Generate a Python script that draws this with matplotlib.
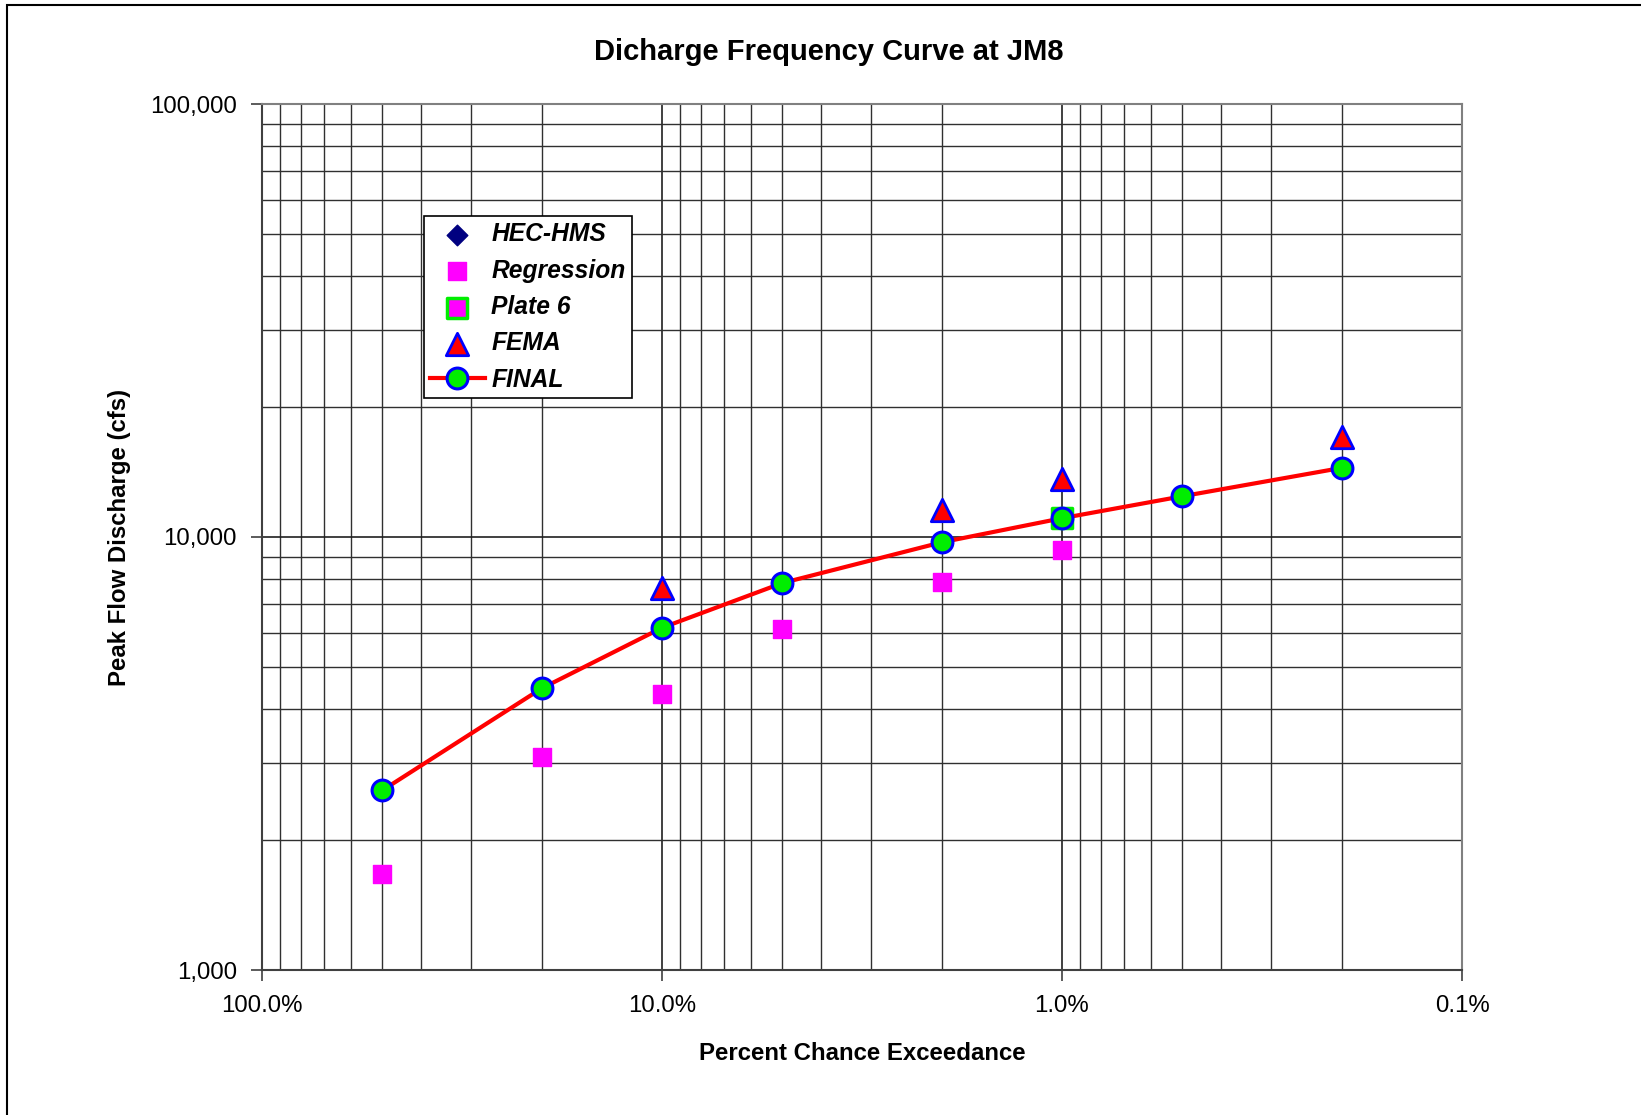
import matplotlib
matplotlib.use("Agg")
import matplotlib.pyplot as plt
from matplotlib.ticker import FixedLocator, FuncFormatter, NullFormatter
from matplotlib.patches import Rectangle

plt.rcParams['font.family'] = ['Liberation Sans', 'DejaVu Sans']

# percent chance exceedance (as fraction) and discharges
pct = [0.5, 0.2, 0.1, 0.05, 0.02, 0.01, 0.005, 0.002]
final = [2600, 4470, 6170, 7830, 9720, 11050, 12420, 14440]

hms_pct = [0.5, 0.1, 0.02, 0.01, 0.002]
hms = [2600, 6170, 9720, 11050, 14440]

reg_pct = [0.5, 0.2, 0.1, 0.05, 0.02, 0.01]
regression = [1670, 3110, 4350, 6130, 7870, 9350]

plate_pct = [0.01]
plate6 = [11050]

fema_pct = [0.1, 0.02, 0.01, 0.002]
fema = [7620, 11560, 13580, 17060]

x_ticks = [1.0, 0.1, 0.01, 0.001]
y_ticks = [1000, 10000, 100000]

fig = plt.figure(figsize=(16.41, 11.15), dpi=100)
fig.patches.append(Rectangle((7 / 1641, -0.1), 2.0, 1.1 - 5 / 1115, transform=fig.transFigure,
                             fill=False, edgecolor='black', linewidth=1.5))
ax = fig.add_axes([262 / 1641, 1 - 970 / 1115, (1462 - 262) / 1641, (970 - 104) / 1115])

ax.set_xscale('log')
ax.set_yscale('log')
ax.set_xlim(1.0, 0.001)
ax.set_ylim(1000, 100000)

ax.scatter(hms_pct, hms, marker='D', s=110, color='#000080', zorder=4, label='HEC-HMS')
ax.scatter(reg_pct, regression, marker='s', s=150, color='#ff00ff', zorder=4, label='Regression')
ax.scatter(plate_pct, plate6, marker='s', s=190, facecolor='#ff00ff', edgecolor='#00ee00',
           linewidth=2.5, zorder=4, label='Plate 6')
ax.scatter(fema_pct, fema, marker='^', s=260, facecolor='red', edgecolor='blue',
           linewidth=2, zorder=5, label='FEMA')
ax.plot(pct, final, color='red', linewidth=3, marker='o', markersize=15,
        markerfacecolor='#00ee00', markeredgecolor='blue', markeredgewidth=2.2,
        zorder=6, label='FINAL')

ax.xaxis.set_major_locator(FixedLocator(x_ticks))
ax.xaxis.set_major_formatter(FuncFormatter(lambda v, p: '{:.1f}%'.format(v * 100)))
ax.xaxis.set_minor_formatter(NullFormatter())
ax.yaxis.set_major_locator(FixedLocator(y_ticks))
ax.yaxis.set_major_formatter(FuncFormatter(lambda v, p: '{:,.0f}'.format(v)))
ax.yaxis.set_minor_formatter(NullFormatter())

ax.grid(which='major', color='#202020', linewidth=1.2)
ax.grid(which='minor', color='#303030', linewidth=1.0)
ax.set_axisbelow(True)
ax.tick_params(which='major', length=8, width=1.2, color='#404040', labelsize=17.3, pad=10)
ax.tick_params(which='minor', length=0)
for s in ax.spines.values():
    s.set_color('#808080')
    s.set_linewidth(1.5)
ax.spines['left'].set_color('#404040')
ax.spines['bottom'].set_color('#404040')

fig.text(792 / 1568, 1 - 50 / 1065, 'Dicharge Frequency Curve at JM8', fontsize=21,
         fontweight='bold', ha='center', va='center')
ax.set_xlabel('Percent Chance Exceedance', fontsize=17.3, fontweight='bold', labelpad=18)
ax.set_ylabel('Peak Flow Discharge (cfs)', fontsize=17.3, fontweight='bold', labelpad=14)

leg = ax.legend(loc='upper left', bbox_to_anchor=((412 - 262) / 1200, 1 - (204 - 104) / 866),
                prop={'size': 17.7, 'weight': 'bold', 'style': 'italic'},
                frameon=True, fancybox=False, edgecolor='black', framealpha=1,
                borderpad=0.25, labelspacing=0.5, handlelength=2.2, handletextpad=0.28,
                borderaxespad=0.5, scatterpoints=1)
leg.get_frame().set_linewidth(1.2)

fig.savefig('out.png', dpi=100)
